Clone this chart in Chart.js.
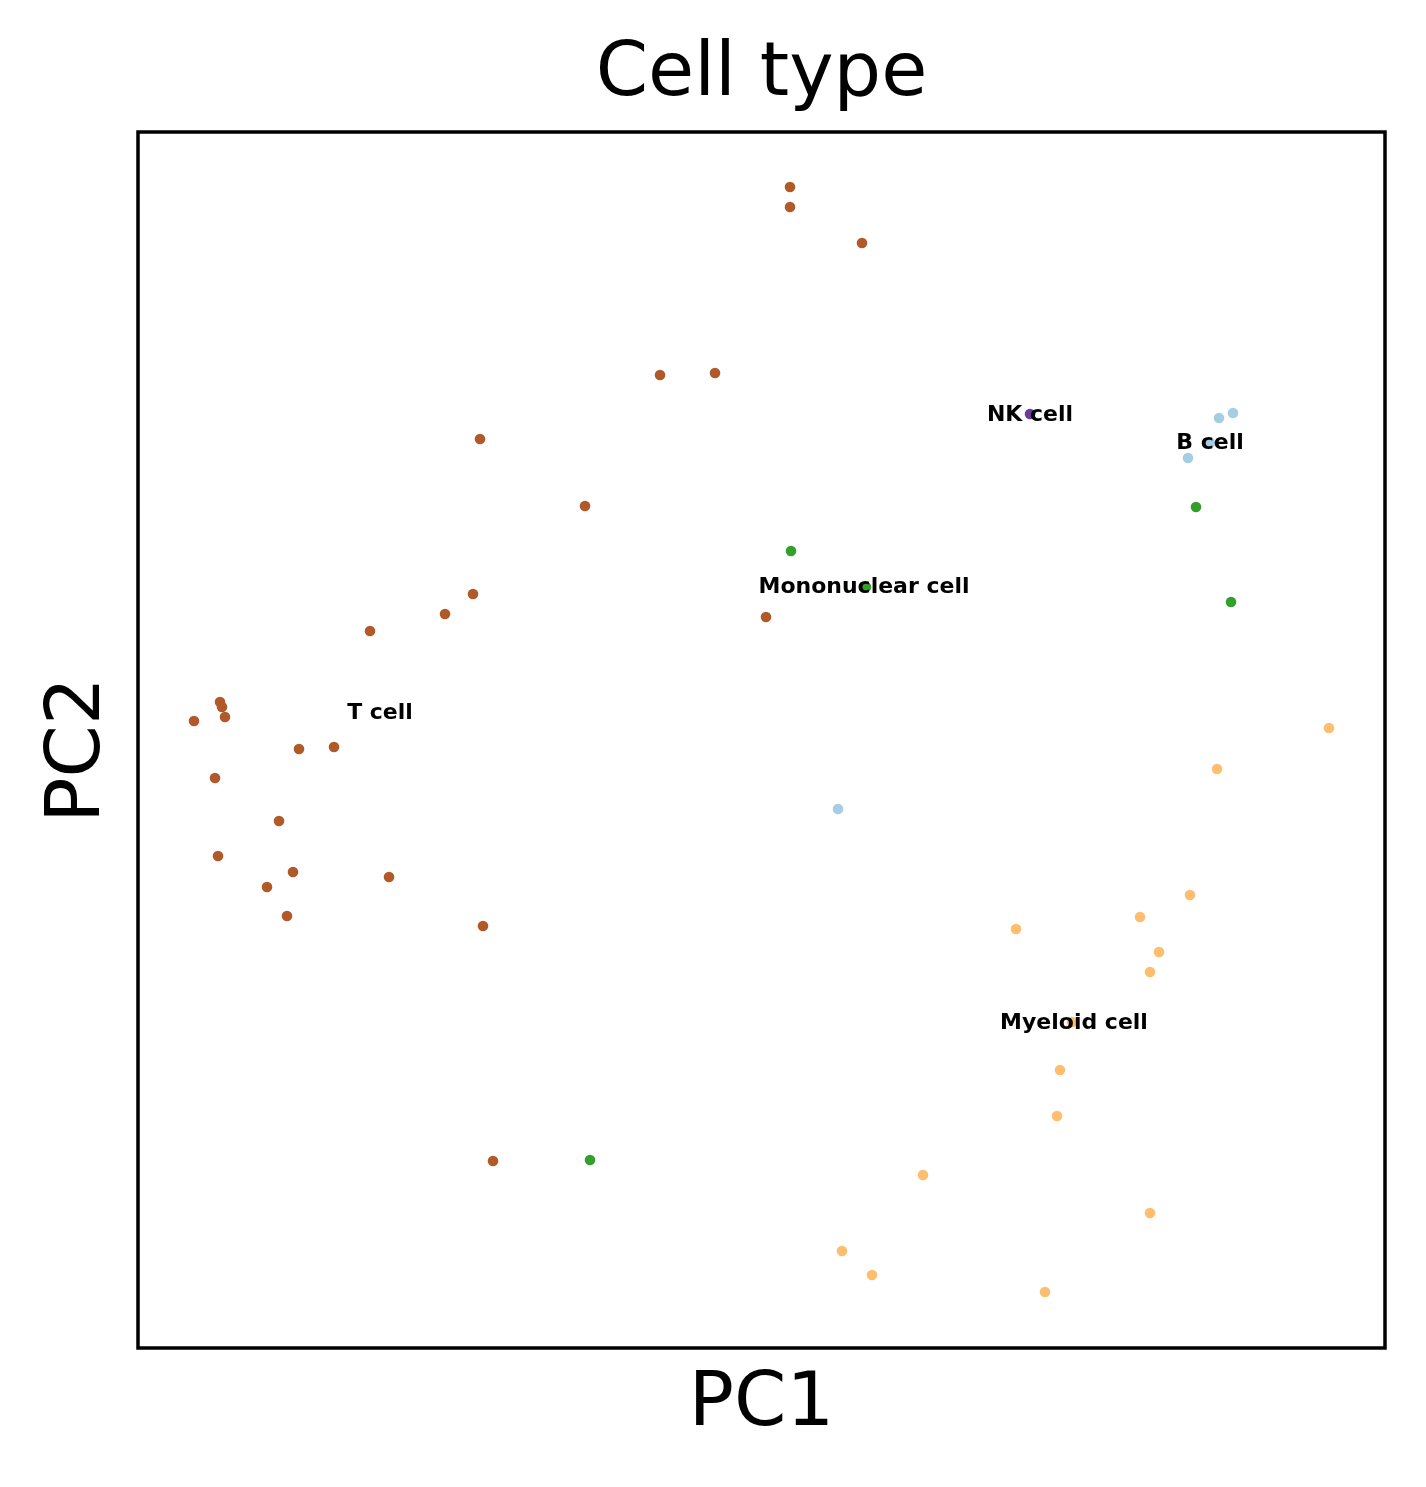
<!DOCTYPE html>
<html>
<head>
<meta charset="utf-8">
<script src="https://cdn.jsdelivr.net/npm/chart.js@4.4.0/dist/chart.umd.min.js"></script>
<style>
  html, body { margin: 0; padding: 0; background: #fff; }
  #wrap { width: 1426px; height: 1487px; }
</style>
</head>
<body>
<div id="wrap"><canvas id="pca"></canvas></div>
<script>
// PC coordinates (arbitrary units)
const tCellX = [652, 652, 724, 522, 577, 342, 447, 335, 307, 232, 628, 82, 84, 87, 56, 161, 196, 77, 141, 80, 155, 129, 251, 149, 345, 355];
const tCellY = [1161, 1141, 1105, 973, 975, 909, 842, 754, 734, 717, 731, 646, 641, 631, 627, 599, 601, 570, 527, 492, 476, 461, 471, 432, 422, 187];
const monoX = [653, 728, 1058, 1093, 452];
const monoY = [797, 761, 841, 746, 188];
const bCellX = [1081, 1095, 1072, 1050, 700];
const bCellY = [930, 935, 905, 890, 539];
const nkX = [892];
const nkY = [934];
const myeloidX = [1191, 1079, 1052, 1002, 878, 1021, 1012, 934, 922, 919, 785, 1012, 704, 734, 907];
const myeloidY = [620, 579, 453, 431, 419, 396, 376, 326, 278, 232, 173, 135, 97, 73, 56];

const labelNames = ['T cell', 'Mononuclear cell', 'NK cell', 'B cell', 'Myeloid cell'];
const labelX = [242, 726, 892, 1072, 936];
const labelY = [636, 762, 934, 906, 326];

const toPts = (xs, ys) => xs.map((x, i) => ({x: x, y: ys[i]}));

const frame = {
    id: 'frame',
    afterDatasetsDraw(chart) {
        const ctx = chart.ctx;
        const xs = chart.scales.x, ys = chart.scales.y;
        ctx.save();
        ctx.fillStyle = '#000';
        ctx.font = 'bold 22px "DejaVu Sans"';
        ctx.textAlign = 'center';
        ctx.textBaseline = 'middle';
        labelNames.forEach((n, i) => {
            ctx.fillText(n, xs.getPixelForValue(labelX[i]), ys.getPixelForValue(labelY[i]) + 1);
        });
        const a = chart.chartArea;
        ctx.strokeStyle = '#000';
        ctx.lineWidth = 3.5;
        ctx.strokeRect(a.left, a.top, a.right - a.left, a.bottom - a.top);
        // titles
        ctx.font = '75px "DejaVu Sans"';
        ctx.fillText('Cell type', (a.left + a.right) / 2, 76);
        ctx.fillText('PC1', (a.left + a.right) / 2, 1406);
        ctx.translate(80, 750);
        ctx.rotate(-Math.PI / 2);
        ctx.fillText('PC2', 0, 0);
        ctx.restore();
    }
};

new Chart(document.getElementById('pca'), {
    type: 'scatter',
    data: {
        datasets: [
            {label: 'B cell', data: toPts(bCellX, bCellY), backgroundColor: '#a6cee3'},
            {label: 'Mononuclear cell', data: toPts(monoX, monoY), backgroundColor: '#33a02c'},
            {label: 'Myeloid cell', data: toPts(myeloidX, myeloidY), backgroundColor: '#fdbf6f'},
            {label: 'NK cell', data: toPts(nkX, nkY), backgroundColor: '#6a3d9a'},
            {label: 'T cell', data: toPts(tCellX, tCellY), backgroundColor: '#b15928'},
        ]
    },
    options: {
        responsive: true,
        maintainAspectRatio: false,
        animation: false,
        layout: {padding: {left: 138, right: 41, top: 132, bottom: 139}},
        elements: {point: {radius: 5.3, borderWidth: 0, hoverRadius: 5.3}},
        plugins: {legend: {display: false}, tooltip: {enabled: false}},
        scales: {
            x: {display: false, min: 0, max: 1247},
            y: {display: false, min: 0, max: 1216}
        }
    },
    plugins: [frame]
});
</script>
</body>
</html>
